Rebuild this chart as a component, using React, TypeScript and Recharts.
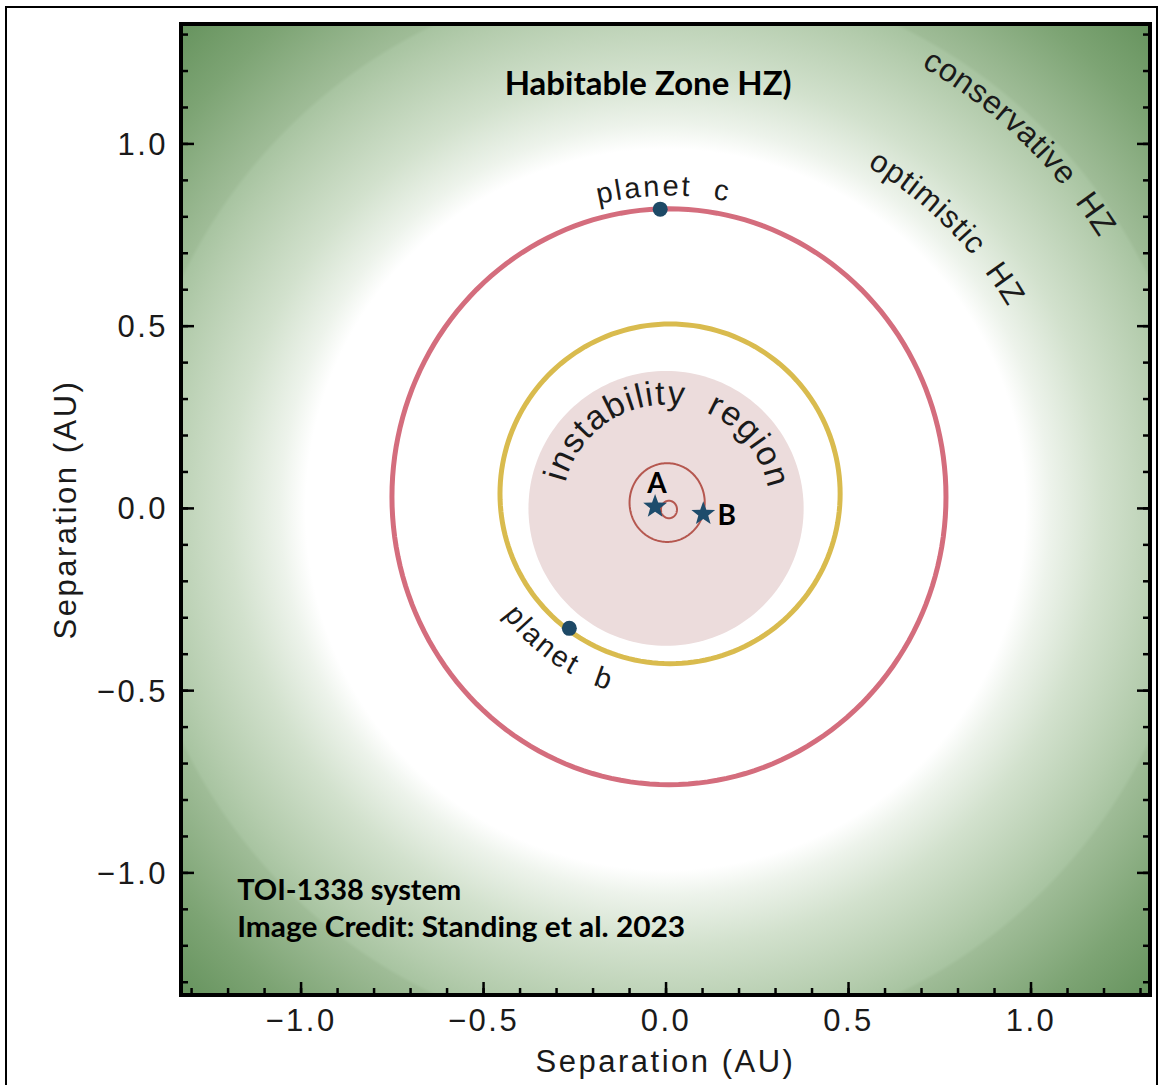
import React from 'react';
import { ScatterChart, Scatter, XAxis, YAxis } from 'recharts';

// axis ranges and ticks (AU)
const xDomain = [-1.329, 1.326];
const yDomain = [-1.335, 1.329];
const majorTicks = [-1, -0.5, 0, 0.5, 1];
const minorTicks = [
  -1.3, -1.2, -1.1, -1.0, -0.9, -0.8, -0.7, -0.6, -0.5, -0.4, -0.3, -0.2, -0.1, 0,
  0.1, 0.2, 0.3, 0.4, 0.5, 0.6, 0.7, 0.8, 0.9, 1.0, 1.1, 1.2, 1.3,
];

// regions and orbits: centre and semi-axes in AU
const ringNames = ['instability region', 'planet b orbit', 'planet c orbit', 'star A orbit', 'star B orbit'];
const ringCenterX = [0, 0.011, 0.008, 0.008, 0.003];
const ringCenterY = [0, 0.04, 0.032, -0.003, 0.016];
const ringRadiusX = [0.377, 0.466, 0.759, 0.022, 0.103];
const ringRadiusY = [0.377, 0.466, 0.79, 0.024, 0.108];

// stars and planets
const bodyNames = ['A', 'B', 'planet b', 'planet c'];
const bodyIsStar = [true, true, false, false];
const bodyX = [-0.03, 0.102, -0.265, -0.016];
const bodyY = [0.005, -0.015, -0.329, 0.821];

// curved labels: centre, baseline radius, start / end angle in degrees
const arcTexts = [
  'conservative\u00a0\u00a0HZ',
  'optimistic\u00a0\u00a0HZ',
  'instability\u00a0\u00a0region',
  'planet\u00a0\u00a0c',
  'planet\u00a0\u00a0b',
];
const arcCenterX = [0, 0, 0, 0.008, 0.011];
const arcCenterY = [0, 0, 0, 0.032, 0.04];
const arcRadius = [1.4, 1.088, 0.285, 0.826, 0.565];
const arcFrom = [70, 69, 178, 121, 200];
const arcTo = [22, 21, -2, 61, 269];

// flat notes
const noteTexts = ['Habitable Zone HZ)', 'TOI-1338 system', 'Image Credit: Standing et al. 2023', 'A', 'B'];
const noteX = [-0.049, -1.175, -1.175, -0.025, 0.166];
const noteY = [1.134, -1.074, -1.176, 0.043, -0.045];

// styles
const FONT = '"Liberation Sans", Arial, Helvetica, sans-serif';
const BOLD = 'Lato, Carlito, Calibri, sans-serif';
const INK = '#1a1a1a';
const ringFill = ['#ecdcdc', 'none', 'none', 'none', 'none'];
const ringStroke = ['none', '#d9bb4e', '#d46d7d', '#b5574f', '#b5574f'];
const ringWidth = [0, 5, 5, 2, 2];
const arcFontSize = [32, 31, 34, 29, 29];
const arcSpacing = [0.6, 1, 1.5, 2.5, 2.5];
const noteFontSize = [32, 29, 29, 28, 28];
const noteAnchor = ['middle', 'start', 'start', 'middle', 'middle'];
const noteLength = [287, 224, 448, 0, 0];
const glowOffsets = [0, 0.495, 0.53, 0.6, 0.7, 0.735, 0.74, 0.85, 1];
const glowColors = ['#ffffff', '#ffffff', '#edf3eb', '#d2e1cd', '#b4ccad', '#a8c4a1', '#9fbc97', '#7da474', '#588950'];

const MAJOR_LEN = 13;
const MINOR_LEN = 7;

const toPath = (pts: any[]) =>
  pts
    .filter((p) => p && p.x != null && p.y != null)
    .map((p, i) => `${i ? 'L' : 'M'}${p.x.toFixed(2)},${p.y.toFixed(2)}`)
    .join(' ');

const ellipse = (cx: number, cy: number, rx: number, ry: number) => {
  const pts = [];
  for (let deg = 0; deg < 360; deg += 2) {
    const t = (deg * Math.PI) / 180;
    pts.push({ x: cx + rx * Math.cos(t), y: cy + ry * Math.sin(t) });
  }
  return pts;
};

const arc = (cx: number, cy: number, r: number, from: number, to: number) => {
  const n = Math.ceil(Math.abs(to - from));
  const pts = [];
  for (let i = 0; i <= n; i++) {
    const t = ((from + ((to - from) * i) / n) * Math.PI) / 180;
    pts.push({ x: cx + r * Math.cos(t), y: cy + r * Math.sin(t) });
  }
  return pts;
};

const frameCorners = [
  { x: xDomain[0], y: yDomain[1] },
  { x: xDomain[1], y: yDomain[1] },
  { x: xDomain[1], y: yDomain[0] },
  { x: xDomain[0], y: yDomain[0] },
];

const rings = ringNames.map((name, i) => ({
  name,
  pts: ellipse(ringCenterX[i], ringCenterY[i], ringRadiusX[i], ringRadiusY[i]),
}));

const bodies = bodyNames.map((name, i) => ({ name, star: bodyIsStar[i], x: bodyX[i], y: bodyY[i] }));
const arcs = arcTexts.map((text, i) => ({
  text,
  pts: arc(arcCenterX[i], arcCenterY[i], arcRadius[i], arcFrom[i], arcTo[i]),
}));
const notes = noteTexts.map((text, i) => ({ text, idx: i, x: noteX[i], y: noteY[i] }));

const NoPoint = () => <g />;

const BodyShape = (p: any) => {
  const { cx, cy, payload } = p;
  if (cx == null || cy == null) return <g />;
  if (payload && payload.star) {
    const pts = [];
    for (let i = 0; i < 10; i++) {
      const r = i % 2 ? 5.2 : 12.5;
      const t = -Math.PI / 2 + (i * Math.PI) / 5;
      pts.push(`${(cx + r * Math.cos(t)).toFixed(2)},${(cy + r * Math.sin(t)).toFixed(2)}`);
    }
    return <polygon points={pts.join(' ')} fill="#1e4c6c" />;
  }
  return <circle cx={cx} cy={cy} r={7.5} fill="#1d4966" />;
};

const NoteShape = (p: any) => {
  const { cx, cy, payload } = p;
  if (cx == null || cy == null || !payload) return <g />;
  const i = payload.idx;
  const len = noteLength[i];
  return (
    <text
      x={cx}
      y={cy}
      fontFamily={BOLD}
      fontWeight={700}
      fontSize={noteFontSize[i]}
      fill="#000"
      textAnchor={noteAnchor[i] as any}
      {...(len ? { textLength: len, lengthAdjust: 'spacingAndGlyphs' } : {})}
    >
      {payload.text}
    </text>
  );
};

const glowLine = (p: any) => (
  <g>
    <defs>
      <radialGradient id="hzGlow" cx="50%" cy="50%" r="75%">
        {glowOffsets.map((o, i) => (
          <stop key={i} offset={o} stopColor={glowColors[i]} />
        ))}
      </radialGradient>
    </defs>
    <path d={`${toPath(p.points)} Z`} fill="url(#hzGlow)" stroke="none" />
  </g>
);

const ringLine = (i: number) => (p: any) => (
  <path
    d={`${toPath(p.points)} Z`}
    fill={ringFill[i]}
    stroke={ringStroke[i]}
    strokeWidth={ringWidth[i]}
  />
);

const arcLine = (i: number) => (p: any) => (
  <g>
    <path id={`arc-label-${i}`} d={toPath(p.points)} fill="none" stroke="none" />
    <text fontFamily={FONT} fontSize={arcFontSize[i]} letterSpacing={arcSpacing[i]} fill={INK}>
      <textPath href={`#arc-label-${i}`} startOffset="50%" textAnchor="middle">
        {arcTexts[i]}
      </textPath>
    </text>
  </g>
);

const fmt = (v: number) => v.toFixed(1).replace('-', '\u2212');
const isMajor = (v: number) => majorTicks.some((m) => Math.abs(m - v) < 1e-6);

const tickPen = { stroke: '#000', strokeWidth: 2.5 };
const labelFont = { fill: INK, fontSize: 31, fontFamily: FONT, letterSpacing: 2.5 };

// bottom: labels sit BOTTOM_GAP below the minor tick end
const BOTTOM_GAP = 21;
const BottomTick = (p: any) => {
  const { x, y, payload } = p;
  if (!payload || !isMajor(payload.value)) return <g />;
  const edge = y - BOTTOM_GAP + MINOR_LEN;
  return (
    <g>
      <line x1={x} x2={x} y1={edge} y2={edge - MAJOR_LEN} {...tickPen} />
      <text x={x} y={y} dy="0.71em" textAnchor="middle" {...labelFont}>
        {fmt(payload.value)}
      </text>
    </g>
  );
};

const LEFT_GAP = 20;
const LeftTick = (p: any) => {
  const { x, y, payload } = p;
  if (!payload || !isMajor(payload.value)) return <g />;
  const edge = x + LEFT_GAP - MINOR_LEN;
  return (
    <g>
      <line x1={edge} x2={edge + MAJOR_LEN} y1={y} y2={y} {...tickPen} />
      <text x={x} y={y} dy="0.355em" textAnchor="end" {...labelFont}>
        {fmt(payload.value)}
      </text>
    </g>
  );
};

const TopTick = (p: any) => {
  const { x, y, payload } = p;
  if (!payload || !isMajor(payload.value)) return <g />;
  const edge = y - MINOR_LEN;
  return <line x1={x} x2={x} y1={edge} y2={edge + MAJOR_LEN} {...tickPen} />;
};

const RightTick = (p: any) => {
  const { x, y, payload } = p;
  if (!payload || !isMajor(payload.value)) return <g />;
  const edge = x + MINOR_LEN;
  return <line x1={edge} x2={edge - MAJOR_LEN} y1={y} y2={y} {...tickPen} />;
};

const YTitle = (props: any) => {
  const vb = props.viewBox || { x: 0, y: 0, width: 181, height: 1085 };
  const x = (vb.x || 0) + 65;
  const y = (vb.y || 0) + (vb.height || 0) / 2;
  return (
    <text
      x={x}
      y={y}
      transform={`rotate(-90, ${x}, ${y})`}
      textAnchor="middle"
      dominantBaseline="central"
      {...labelFont}
    >
      Separation (AU)
    </text>
  );
};

const frame = { stroke: '#000', strokeWidth: 4, strokeLinecap: 'square' as const };
const AXIS_Z = 900;

export default function App() {
  return (
    <div style={{ position: 'absolute', left: 0, top: 0, width: 1158, height: 1085, background: '#fff' }}>
      <div
        style={{
          position: 'absolute',
          left: 5,
          top: 6,
          width: 1153,
          height: 1079,
          border: '2px solid #000',
          borderBottom: 'none',
          boxSizing: 'border-box',
        }}
      />
      <div style={{ position: 'absolute', left: 0, top: 0 }}>
        <ScatterChart width={1158} height={1085} margin={{ top: 0, right: 0, bottom: 0, left: 0 }}>
          <Scatter
            name="habitable zone"
            data={frameCorners}
            shape={NoPoint}
            line={glowLine}
            isAnimationActive={false}
            legendType="none"
          />
          {rings.map((r, i) => (
            <Scatter
              key={r.name}
              name={r.name}
              data={r.pts}
              shape={NoPoint}
              line={ringLine(i)}
              isAnimationActive={false}
              legendType="none"
            />
          ))}
          <Scatter
            name="bodies"
            data={bodies}
            shape={BodyShape}
            isAnimationActive={false}
            legendType="none"
          />
          {arcs.map((a, i) => (
            <Scatter
              key={a.text}
              name={a.text}
              data={a.pts}
              shape={NoPoint}
              line={arcLine(i)}
              isAnimationActive={false}
              legendType="none"
            />
          ))}
          <Scatter
            name="notes"
            data={notes}
            shape={NoteShape}
            isAnimationActive={false}
            legendType="none"
          />

          <XAxis
            zIndex={AXIS_Z}
            type="number"
            dataKey="x"
            domain={xDomain}
            allowDataOverflow
            ticks={minorTicks}
            interval={0}
            height={90}
            tickSize={-MINOR_LEN}
            tickMargin={BOTTOM_GAP}
            tick={BottomTick}
            tickLine={tickPen}
            axisLine={frame}
            label={{
              value: 'Separation (AU)',
              position: 'insideBottom',
              offset: 13,
              ...labelFont,
            }}
          />
          <XAxis
            zIndex={AXIS_Z}
            xAxisId="top"
            orientation="top"
            type="number"
            domain={xDomain}
            allowDataOverflow
            ticks={minorTicks}
            interval={0}
            height={24}
            tickSize={-MINOR_LEN}
            tickMargin={0}
            tick={TopTick}
            tickLine={tickPen}
            axisLine={frame}
          />
          <YAxis
            zIndex={AXIS_Z}
            type="number"
            dataKey="y"
            domain={yDomain}
            allowDataOverflow
            ticks={minorTicks}
            interval={0}
            width={181}
            tickSize={-MINOR_LEN}
            tickMargin={LEFT_GAP}
            tick={LeftTick}
            tickLine={tickPen}
            axisLine={frame}
            label={<YTitle />}
          />
          <YAxis
            zIndex={AXIS_Z}
            yAxisId="right"
            orientation="right"
            type="number"
            domain={yDomain}
            allowDataOverflow
            ticks={minorTicks}
            interval={0}
            width={8}
            tickSize={-MINOR_LEN}
            tickMargin={0}
            tick={RightTick}
            tickLine={tickPen}
            axisLine={frame}
          />
        </ScatterChart>
      </div>
    </div>
  );
}
